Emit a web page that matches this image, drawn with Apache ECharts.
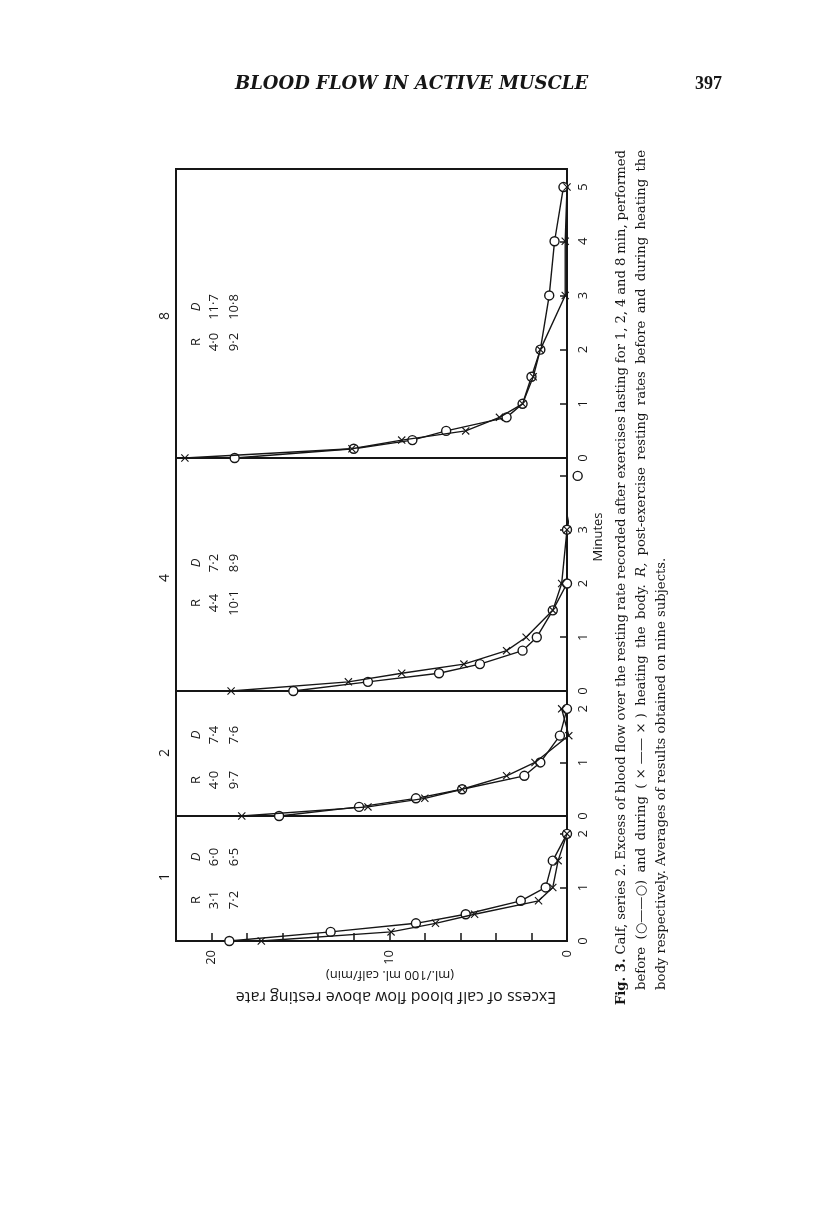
<!DOCTYPE html>
<html>
<head>
<meta charset="utf-8">
<script src="https://cdn.jsdelivr.net/npm/echarts@6/dist/echarts.min.js"></script>
<style>
  html, body { margin: 0; padding: 0; background: #fff; }
  #chart { width: 816px; height: 1221px; }
</style>
</head>
<body>
<div id="chart"></div>
<script>
// panels, bottom one first: exercise lasting 1, 2, 4 and 8 min
const durations = ['1', '2', '4', '8']
const panelMax = [7 / 3, 7 / 3, 13 / 3, 16 / 3]

// minutes after exercise, and excess flow (ml./100 ml. calf/min)
const minutes1 = [0, 0.17, 0.33, 0.5, 0.75, 1, 1.5, 2]
const before1 = [19.0, 13.3, 8.5, 5.7, 2.6, 1.2, 0.8, 0]
const during1 = [17.2, 9.9, 7.4, 5.2, 1.6, 0.8, 0.5, 0]

const minutes2 = [0, 0.17, 0.33, 0.5, 0.75, 1, 1.5, 2]
const before2 = [16.2, 11.7, 8.5, 5.9, 2.4, 1.5, 0.4, 0]
const during2 = [18.3, 11.2, 8.0, 5.9, 3.4, 1.8, -0.1, 0.3]

const minutes4 = [0, 0.17, 0.33, 0.5, 0.75, 1, 1.5, 2, 3, 4]
const before4 = [15.4, 11.2, 7.2, 4.9, 2.5, 1.7, 0.8, 0, 0, -0.6]
const during4 = [18.9, 12.3, 9.3, 5.8, 3.4, 2.3, 0.8, 0.3, 0]

const minutes8 = [0, 0.17, 0.33, 0.5, 0.75, 1, 1.5, 2, 3, 4, 5]
const before8 = [18.7, 12.0, 8.7, 6.8, 3.4, 2.5, 2.0, 1.5, 1.0, 0.7, 0.2]
const during8 = [21.5, 12.1, 9.3, 5.7, 3.8, 2.5, 1.9, 1.5, 0.1, 0.1, 0]

// resting rates R and D, first row before heating, second row during
const restR = [['3·1', '7·2'], ['4·0', '9·7'], ['4·4', '10·1'], ['4·0', '9·2']]
const restD = [['6·0', '6·5'], ['7·4', '7·6'], ['7·2', '8·9'], ['11·7', '10·8']]

const minutes = [minutes1, minutes2, minutes4, minutes8]
const before = [before1, before2, before4, before8]
const during = [during1, during2, during4, during8]

// layout of the (rotated) figure
const gridTop = [816, 691, 458, 169]
const gridHeight = [125, 125, 233, 289]
const labelY = [877, 753, 578, 316]
const rowY = [[900, 857], [780, 735], [603, 563], [342, 307]]

const ink = '#161616'
const sans = '"Open Sans", "DejaVu Sans", sans-serif'
const serif = '"DejaVu Serif", serif'
const crossPath = 'path://M0,1 L1,0 L5,4 L9,0 L10,1 L6,5 L10,9 L9,10 L5,6 L1,10 L0,9 L4,5 Z'

let grids = [], xAxes = [], yAxes = [], series = [], graphics = []

durations.forEach((d, i) => {
  grids.push({
    left: 176, right: 249, top: gridTop[i], height: gridHeight[i],
    show: true, borderColor: ink, borderWidth: 2, backgroundColor: 'transparent'
  })
  xAxes.push({
    gridIndex: i, type: 'value', min: 0, max: 22, interval: 2, inverse: true,
    position: 'bottom', show: i === 0,
    axisLine: { show: false },
    splitLine: { show: false },
    axisTick: { inside: true, length: 8, lineStyle: { color: ink, width: 1.5 } },
    axisLabel: {
      rotate: 90, margin: 9, fontSize: 13, color: ink, fontFamily: sans,
      showMaxLabel: false,
      formatter: v => (v % 10 === 0 ? String(v) : '')
    }
  })
  yAxes.push({
    gridIndex: i, type: 'value', min: 0, max: panelMax[i], interval: 1,
    position: 'right',
    axisLine: { show: false },
    splitLine: { show: false },
    axisTick: { inside: true, length: 7, lineStyle: { color: ink, width: 1.5 } },
    axisLabel: {
      rotate: 90, margin: 10, fontSize: 13, color: ink, fontFamily: sans,
      showMaxLabel: false,
      formatter: v => (Number.isInteger(v) && !(i === 2 && v === 4) ? String(v) : '')
    }
  })
  series.push({
    type: 'line', name: 'before ' + d, xAxisIndex: i, yAxisIndex: i,
    data: before[i].map((v, k) => [v, minutes[i][k]]),
    symbol: 'circle', symbolSize: 9, clip: false, z: 2,
    lineStyle: { color: ink, width: 1.4 },
    itemStyle: { color: '#fff', borderColor: ink, borderWidth: 1.4 }
  })
  series.push({
    type: 'line', name: 'during ' + d, xAxisIndex: i, yAxisIndex: i,
    data: during[i].map((v, k) => [v, minutes[i][k]]),
    symbol: crossPath, symbolSize: 8, clip: false, z: 3,
    lineStyle: { color: ink, width: 1.4 },
    itemStyle: { color: ink }
  })

  // panel heading and the R / D table, turned like the rest of the figure
  const rot = { rotation: Math.PI / 2 }
  graphics.push({
    type: 'text', x: 165, y: labelY[i], ...rot,
    style: { text: d, font: '14px ' + sans, fill: ink, align: 'center', verticalAlign: 'middle' }
  })
  const cols = [['R', restR[i][0], restR[i][1]], ['D', restD[i][0], restD[i][1]]]
  cols.forEach((col, c) => {
    col.forEach((t, r) => {
      graphics.push({
        type: 'text', x: [196, 214, 234][r], y: rowY[i][c], ...rot,
        style: {
          text: t, font: (r === 0 && c === 1 ? 'italic ' : '') + '13px ' + sans,
          fill: ink, align: 'center', verticalAlign: 'middle'
        }
      })
    })
  })
})

// axis titles (upside down after the turn) and Minutes
graphics.push(
  { type: 'text', x: 390, y: 975, rotation: Math.PI,
    style: { text: '(ml./100 ml. calf/min)', font: '13px ' + sans, fill: ink, align: 'center', verticalAlign: 'middle' } },
  { type: 'text', x: 396, y: 997, rotation: Math.PI,
    style: { text: 'Excess of calf blood flow above resting rate', font: '16px ' + sans, fill: ink, align: 'center', verticalAlign: 'middle' } },
  { type: 'text', x: 598, y: 537, rotation: Math.PI / 2,
    style: { text: 'Minutes', font: '13px ' + sans, fill: ink, align: 'center', verticalAlign: 'middle' } }
)

// caption, read from the bottom of the page upwards; first two lines justified
const nb = '\u00a0'
const captionLines = [
  'Fig.' + nb + '3. Calf, series 2. Excess of blood flow over the resting rate recorded after exercises lasting for 1, 2, 4 and 8 min, performed',
  'before (○——○) and during (' + nb + '×' + nb + '——' + nb + '×' + nb + ') heating the body. R, post-exercise resting rates before and during heating the',
  'body respectively. Averages of results obtained on nine subjects.'
]
const captionX = [622, 642, 662]
const captionStart = [1005, 990, 990]
const captionLength = [855, 840, 0]
const capSize = 13.2
const measure = document.createElement('canvas').getContext('2d')
captionLines.forEach((line, k) => {
  const words = line.split(' ')
  const fonts = words.map((w, n) => {
    if (k === 0 && n === 0) return 'bold ' + capSize + 'px ' + serif
    if (k === 1 && w === 'R,') return 'italic ' + capSize + 'px ' + serif
    return capSize + 'px ' + serif
  })
  const widths = words.map((w, n) => { measure.font = fonts[n]; return measure.measureText(w).width })
  measure.font = capSize + 'px ' + serif
  const space = measure.measureText(' ').width
  const total = widths.reduce((a, b) => a + b, 0)
  const gap = captionLength[k] ? (captionLength[k] - total) / (words.length - 1) : space
  let pos = 0
  words.forEach((w, n) => {
    graphics.push({
      type: 'text', x: captionX[k], y: captionStart[k] - pos, rotation: Math.PI / 2,
      style: { text: w, font: fonts[n], fill: ink, align: 'left', verticalAlign: 'middle' }
    })
    pos += widths[n] + gap
  })
})

// running head
graphics.push(
  { type: 'text', x: 235, y: 84,
    style: { text: 'BLOOD FLOW IN ACTIVE MUSCLE', font: 'italic bold 18px "DejaVu Serif", serif', fill: ink, align: 'left', verticalAlign: 'middle' } },
  { type: 'text', x: 722, y: 84,
    style: { text: '397', font: 'bold 18px "Liberation Serif", serif', fill: ink, align: 'right', verticalAlign: 'middle' } }
)

const myChart = echarts.init(document.getElementById('chart'), null, { renderer: 'canvas' })
myChart.setOption({
  animation: false,
  backgroundColor: '#fff',
  grid: grids,
  xAxis: xAxes,
  yAxis: yAxes,
  series: series,
  graphic: graphics
})
</script>
</body>
</html>
